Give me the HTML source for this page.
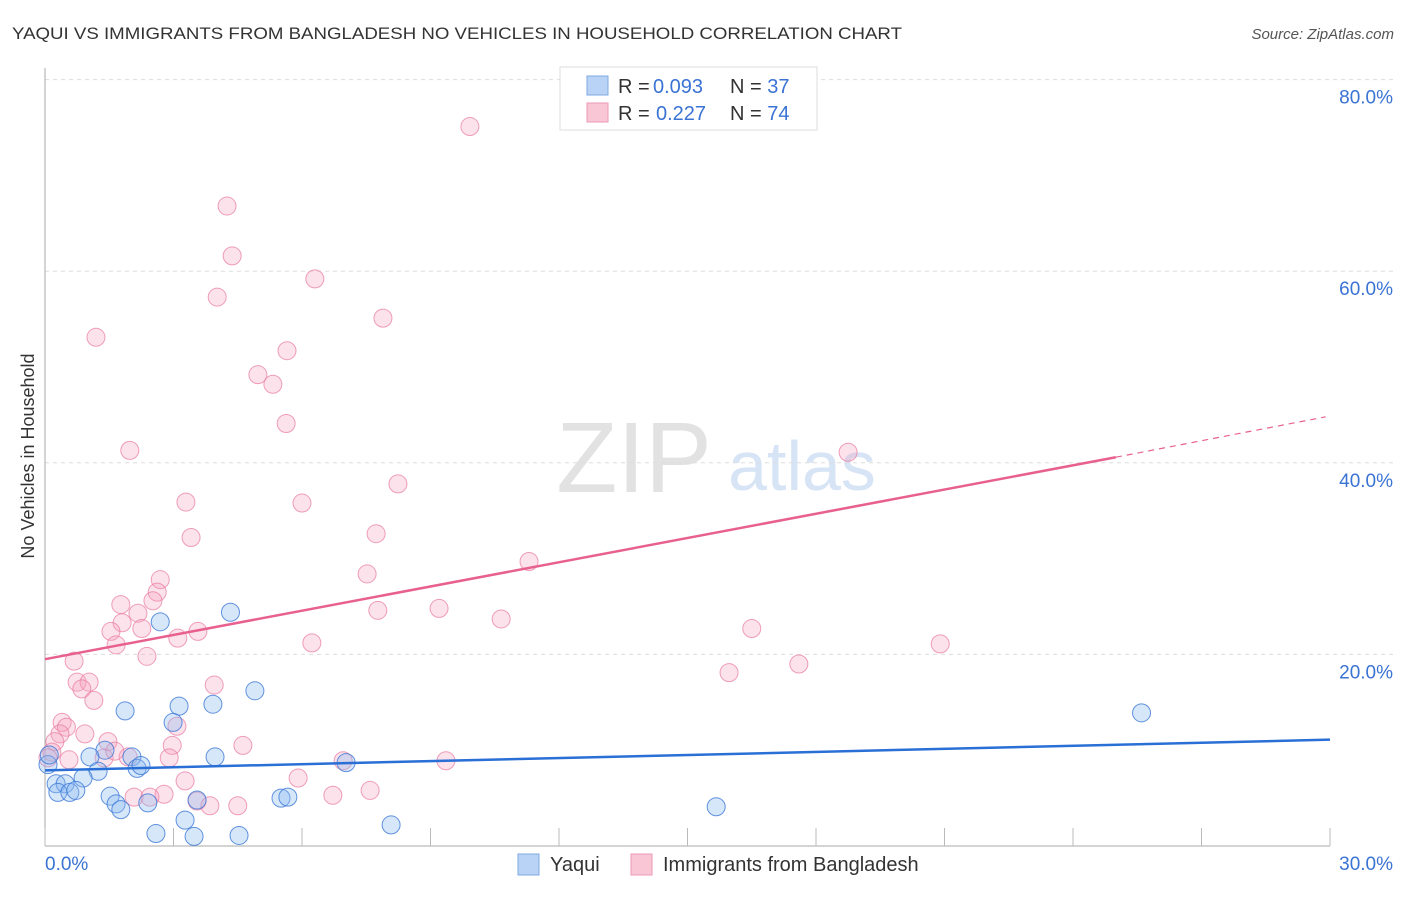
<!DOCTYPE html>
<html><head><meta charset="utf-8"><style>
body{margin:0;background:#fff;font-family:"Liberation Sans",sans-serif}
svg text{font-family:"Liberation Sans",sans-serif}
</style></head><body>
<svg id="chart" width="1406" height="892" xmlns="http://www.w3.org/2000/svg">
<text x="12" y="39" font-size="17" fill="#333" textLength="890" lengthAdjust="spacingAndGlyphs">YAQUI VS IMMIGRANTS FROM BANGLADESH NO VEHICLES IN HOUSEHOLD CORRELATION CHART</text>
<text x="1394" y="39" font-size="15" fill="#555" font-style="italic" text-anchor="end">Source: ZipAtlas.com</text>
<text x="634" y="492" font-size="100" fill="#e2e2e2" font-family="Liberation Serif" text-anchor="middle">ZIP</text>
<text x="802" y="490" font-size="70" fill="#d6e4f5" text-anchor="middle">atlas</text>
<text transform="translate(34,456) rotate(-90)" font-size="18" fill="#333" text-anchor="middle">No Vehicles in Household</text>
<g id="grid"></g><g id="axes"></g><g id="pts"></g><g id="lines"></g>
<g>
<rect x="560" y="67" width="257" height="63" fill="#fff" stroke="#ddd"/>
<rect x="587" y="76" width="21" height="19" fill="#b8d3f5" stroke="#7fa8e0"/>
<rect x="587" y="103" width="21" height="19" fill="#f9c6d6" stroke="#ec9ab5"/>
<text x="618" y="93" font-size="20" fill="#333">R = <tspan x="653" fill="#3a73d4">0.093</tspan><tspan x="730">N = </tspan><tspan fill="#3a73d4">37</tspan></text>
<text x="618" y="120" font-size="20" fill="#333">R = <tspan x="656" fill="#3a73d4">0.227</tspan><tspan x="730">N = </tspan><tspan fill="#3a73d4">74</tspan></text>
</g>
<g>
<rect x="518" y="854" width="21" height="21" fill="#b8d3f5" stroke="#7fa8e0"/>
<text x="550" y="871" font-size="20" fill="#333">Yaqui</text>
<rect x="631" y="854" width="21" height="21" fill="#f9c6d6" stroke="#ec9ab5"/>
<text x="663" y="871" font-size="20" fill="#333">Immigrants from Bangladesh</text>
</g>
</svg>
<script>
const yTicks=[20,40,60,80];
const yTickLabels=["20.0%","40.0%","60.0%","80.0%"];
const xTickVals=[0,3,6,9,12,15,18,21,24,27,30];
const xEndLabels=["0.0%","30.0%"];
const yaquiX=[4.33,2.69,4.9,1.87,3.13,3.92,2.99,25.6,1.4,1.05,2.03,3.97,7.03,2.15,2.24,1.24,0.89,0.26,0.47,0.3,0.58,0.72,1.52,1.66,1.77,2.4,3.55,5.51,5.67,3.27,15.67,8.08,2.59,3.48,4.53,0.07,0.1];
const yaquiY=[24.4,23.4,16.2,14.1,14.6,14.8,12.9,13.9,10.0,9.3,9.3,9.3,8.7,8.1,8.4,7.8,7.1,6.5,6.5,5.6,5.6,5.8,5.2,4.4,3.8,4.5,4.8,5.0,5.1,2.7,4.1,2.2,1.3,1.0,1.1,8.5,9.5];
const bdX=[9.92,4.25,4.37,4.02,6.30,1.19,7.89,5.65,4.97,5.32,5.63,1.98,18.75,3.29,6.0,8.24,3.41,7.73,11.3,2.69,7.52,2.62,2.52,1.77,2.17,7.77,9.2,10.65,1.8,1.54,2.26,3.57,3.1,1.66,6.23,16.5,20.9,2.38,0.68,17.6,15.97,0.75,1.03,0.86,3.95,1.14,0.4,0.5,3.08,0.35,0.93,0.23,2.97,4.62,1.47,0.16,0.07,0.56,1.38,1.94,2.9,6.96,9.36,3.27,5.91,2.78,3.55,3.85,4.5,2.08,2.45,6.72,7.59,1.63];
const bdY=[75.1,66.8,61.6,57.3,59.2,53.1,55.1,51.7,49.2,48.2,44.1,41.3,41.1,35.9,35.8,37.8,32.2,32.6,29.7,27.8,28.4,26.5,25.6,25.2,24.3,24.6,24.8,23.7,23.3,22.4,22.7,22.4,21.7,21.0,21.2,22.7,21.1,19.8,19.3,19.0,18.1,17.1,17.1,16.4,16.8,15.2,12.9,12.4,12.5,11.7,11.7,10.9,10.5,10.5,10.9,9.8,9.2,9.0,9.2,9.3,9.2,8.9,8.9,6.8,7.1,5.4,4.7,4.2,4.2,5.1,5.1,5.3,5.8,9.9];
const yaquiTrend=[7.9,11.1];
const bdTrend=[19.5,44.8];
const bdSolidEnd=25;
const NS="http://www.w3.org/2000/svg";
const X=v=>45+v*(1285/30), Y=v=>846-v*9.58;
function mk(t,a,p){const e=document.createElementNS(NS,t);for(const k in a)e.setAttribute(k,a[k]);document.getElementById(p).appendChild(e);return e;}
yTicks.forEach((t,i)=>{
 const l=mk('line',{x1:45,x2:1394,y1:Y(t),y2:Y(t),stroke:'#ddd','stroke-dasharray':'4,4'},'grid');
 
 
 const tx=mk('text',{x:1393,y:Y(t)+24,'font-size':19,fill:'#3a73d4','text-anchor':'end'},'grid');
 tx.textContent=yTickLabels[i];
 
 
});
const ax=mk('line',{x1:45,x2:45,y1:68,y2:846,stroke:'#aaa'},'axes');


const bx=mk('line',{x1:45,x2:1330,y1:846,y2:846,stroke:'#aaa'},'axes');


xTickVals.forEach(v=>{
 const t=mk('line',{x1:X(v),x2:X(v),y1:828,y2:846,stroke:'#bbb'},'axes');
 
 
});
[[0,'start',45],[30,'end',1393]].forEach((a,i)=>{
 const t=mk('text',{x:a[2],y:870,'font-size':19,fill:'#3a73d4','text-anchor':a[1]},'axes');
 t.textContent=xEndLabels[i];
 
 
});
bdX.forEach((v,i)=>{
 const c=mk('circle',{cx:X(v),cy:Y(bdY[i]),r:9,fill:'rgba(245,160,190,0.3)',stroke:'rgba(232,120,160,0.7)','stroke-width':1},'pts');
 
 
});
yaquiX.forEach((v,i)=>{
 const c=mk('circle',{cx:X(v),cy:Y(yaquiY[i]),r:9,fill:'rgba(140,185,240,0.35)',stroke:'rgba(60,120,215,0.8)','stroke-width':1},'pts');
 
 
});
const yl=mk('line',{x1:X(0),y1:Y(yaquiTrend[0]),x2:X(30),y2:Y(yaquiTrend[1]),stroke:'#2a6fd6','stroke-width':2.5},'lines');


const bm=bdTrend[0]+(bdTrend[1]-bdTrend[0])*bdSolidEnd/30;
const pl=mk('line',{x1:X(0),y1:Y(bdTrend[0]),x2:X(bdSolidEnd),y2:Y(bm),stroke:'#e8608f','stroke-width':2.5},'lines');


const pd=mk('line',{x1:X(bdSolidEnd),y1:Y(bm),x2:X(29.9),y2:Y(bdTrend[1]),stroke:'#e8608f','stroke-width':1.2,'stroke-dasharray':'6,5'},'lines');


</script>
</body></html>
